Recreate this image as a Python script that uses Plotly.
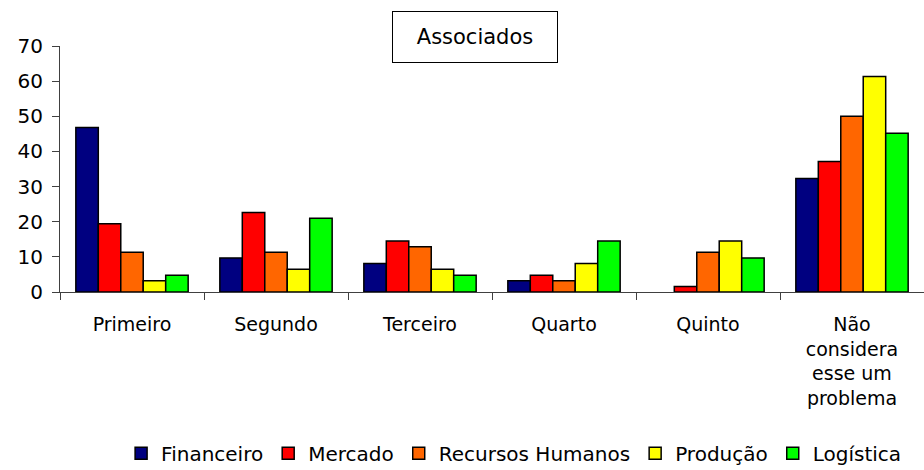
import plotly.graph_objects as go

# Survey answers (percent of associates) by rank of the problem
categories = ["Primeiro", "Segundo", "Terceiro", "Quarto", "Quinto",
              "Não<br>considera<br>esse um<br>problema"]

financeiro = [46.8, 9.7, 8.1, 3.2, 0.0, 32.3]
mercado = [19.4, 22.6, 14.5, 4.8, 1.6, 37.1]
recursos_humanos = [11.3, 11.3, 12.9, 3.2, 11.3, 50.0]
producao = [3.2, 6.5, 6.5, 8.1, 14.5, 61.3]
logistica = [4.8, 21.0, 4.8, 14.5, 9.7, 45.2]

series = [
    ("Financeiro", financeiro, "#000080"),
    ("Mercado", mercado, "#FF0000"),
    ("Recursos Humanos", recursos_humanos, "#FF6600"),
    ("Produção", producao, "#FFFF00"),
    ("Logística", logistica, "#00FF00"),
]

y_ticks = [0, 10, 20, 30, 40, 50, 60, 70]

fig = go.Figure()
for name, values, color in series:
    # empty answers get no outline so nothing is drawn on the baseline
    outline = [0 if v == 0 else 1.5 for v in values]
    fig.add_trace(go.Bar(
        name=name,
        x=categories,
        y=values,
        marker=dict(color=color, line=dict(color="black", width=outline)),
    ))

font = "DejaVu Sans, Arial, sans-serif"
axis_color = "#404040"

fig.update_layout(
    width=924,
    height=470,
    barmode="group",
    bargap=0.22,
    bargroupgap=0,
    paper_bgcolor="white",
    plot_bgcolor="white",
    margin=dict(l=60, r=0, t=46, b=178, autoexpand=False),
    font=dict(family=font, size=19, color="black"),
    showlegend=True,
    legend=dict(
        orientation="h",
        x=0.525, xanchor="center",
        y=-0.655, yanchor="middle",
        font=dict(size=20),
        itemwidth=30,
        tracegroupgap=0,
    ),
    xaxis=dict(
        automargin=False,
        showline=True,
        linecolor=axis_color,
        linewidth=1,
        ticks="outside",
        tickson="boundaries",
        ticklen=7,
        tickcolor=axis_color,
        showgrid=False,
        tickfont=dict(size=19),
        ticklabelstandoff=15,
    ),
    yaxis=dict(
        automargin=False,
        range=[0, 70],
        tickvals=y_ticks,
        showline=True,
        linecolor=axis_color,
        linewidth=1,
        ticks="outside",
        ticklen=7,
        tickcolor=axis_color,
        showgrid=False,
        zeroline=False,
        tickfont=dict(size=20),
        ticklabelstandoff=5,
    ),
    annotations=[dict(
        text="Associados",
        x=0.48, xref="paper", xanchor="center",
        y=1.0, yref="paper", yanchor="middle",
        yshift=9,
        width=140,
        height=26,
        showarrow=False,
        font=dict(size=21),
        bordercolor="black",
        borderwidth=1,
        borderpad=12,
        bgcolor="white",
    )],
)

fig.write_html("out.html")
